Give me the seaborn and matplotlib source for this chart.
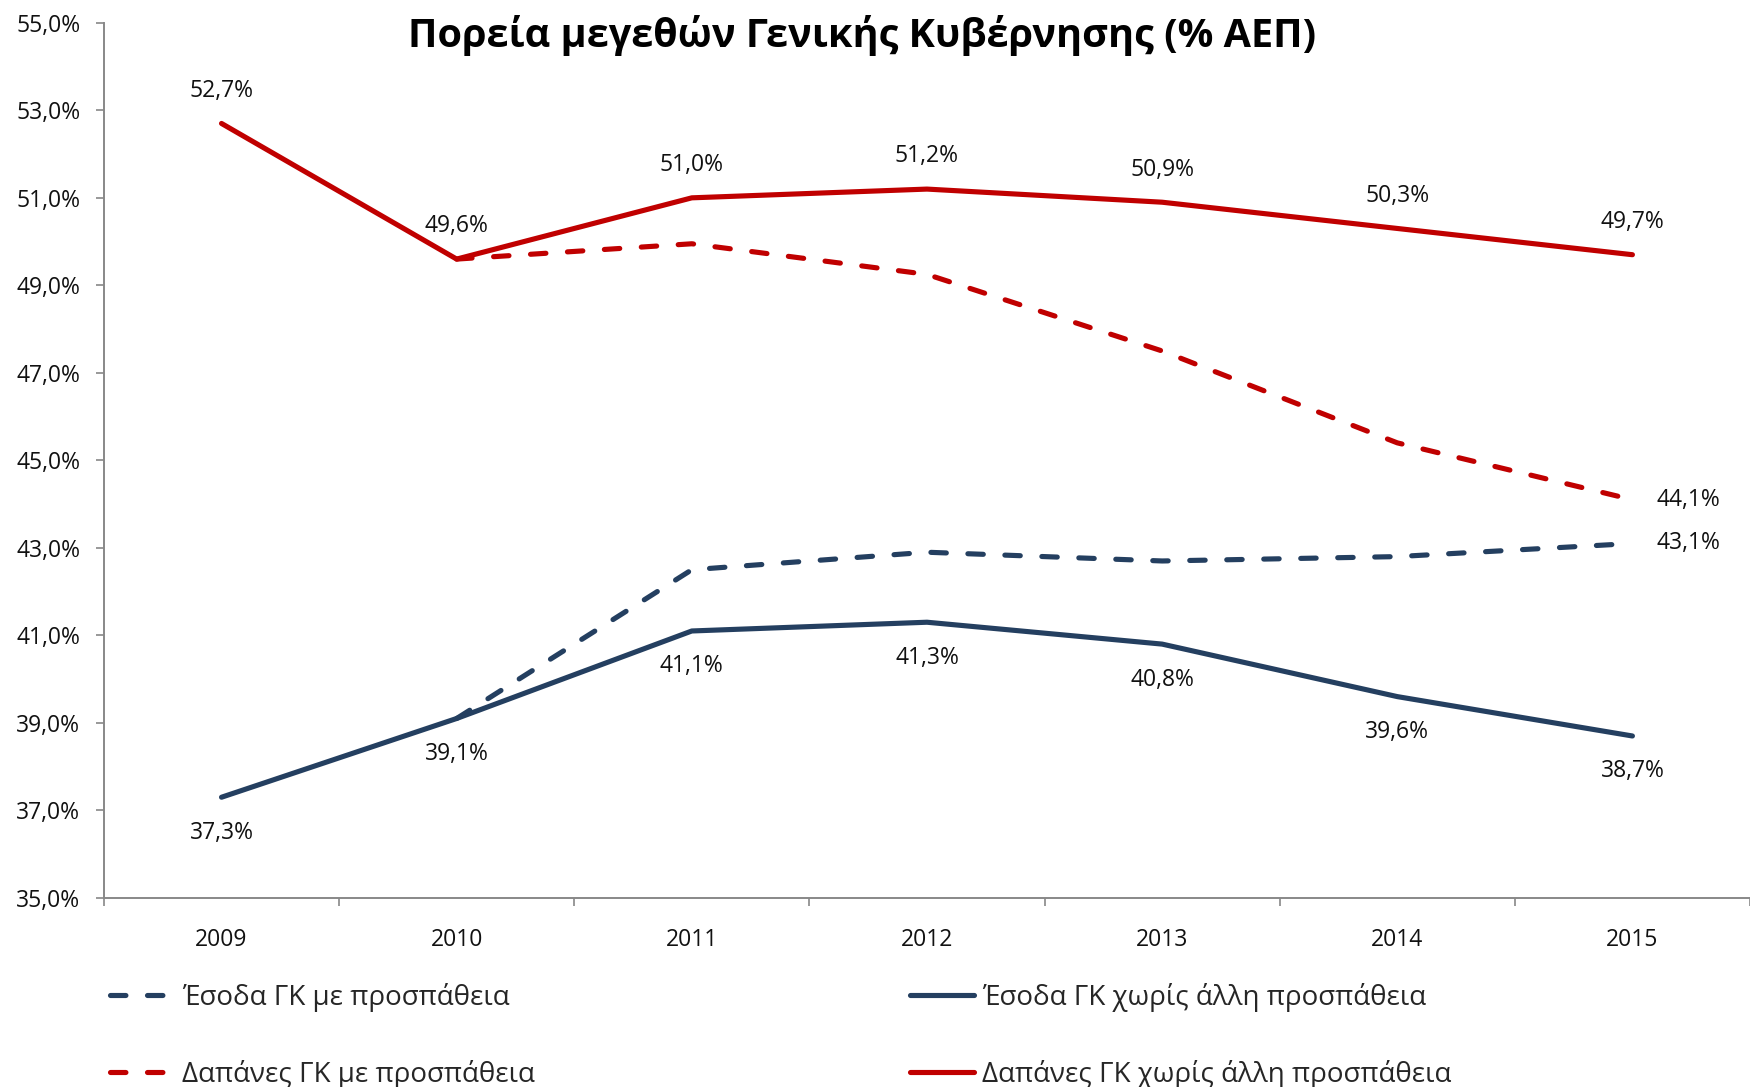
import matplotlib
matplotlib.use("Agg")
import matplotlib.pyplot as plt
import seaborn as sns
import pandas as pd
import numpy as np
from matplotlib.lines import Line2D

sns.set_theme(style="white")
plt.rcParams['font.family'] = ['Open Sans', 'DejaVu Sans']

years = ["2009", "2010", "2011", "2012", "2013", "2014", "2015"]
esoda_me = [np.nan, 39.1, 42.5, 42.9, 42.7, 42.8, 43.1]
esoda_xoris = [37.3, 39.1, 41.1, 41.3, 40.8, 39.6, 38.7]
dapanes_me = [np.nan, 49.6, 49.95, 49.25, 47.5, 45.4, 44.1]
dapanes_xoris = [52.7, 49.6, 51.0, 51.2, 50.9, 50.3, 49.7]

labels = ["Έσοδα ΓΚ με προσπάθεια", "Έσοδα ΓΚ χωρίς άλλη προσπάθεια",
          "Δαπάνες ΓΚ με προσπάθεια", "Δαπάνες ΓΚ χωρίς άλλη προσπάθεια"]
title = "Πορεία μεγεθών Γενικής Κυβέρνησης (% ΑΕΠ)"

NAVY = "#243F60"
RED = "#C00000"
LW = 3.7
DASH = (3, 4.2)
TXT = "#111111"

fig = plt.figure(figsize=(17.5, 10.87), dpi=100)
ax = fig.add_axes([0.0594, 0.174, 0.9406, 0.805])

pos = np.arange(len(years))
series = [
    (esoda_me, NAVY, True, labels[0]),
    (esoda_xoris, NAVY, False, labels[1]),
    (dapanes_me, RED, True, labels[2]),
    (dapanes_xoris, RED, False, labels[3]),
]
handles = {}
for vals, col, dashed, lab in series:
    df = pd.DataFrame({"x": pos, "y": vals}).dropna()
    sns.lineplot(data=df, x="x", y="y", ax=ax, color=col, linewidth=LW,
                 label=lab, legend=False, solid_capstyle="round")
    ln = ax.get_lines()[-1]
    if dashed:
        ln.set_dashes(DASH)
        ln.set_dash_capstyle("round")
    handles[lab] = ln

def fmt(v):
    return f"{v:.1f}%".replace(".", ",")

lab_fs = 16.5
for i, v in enumerate(dapanes_xoris):
    ax.annotate(fmt(v), (pos[i], v), xytext=(0, 23.5), textcoords="offset points",
                ha="center", va="center", fontsize=lab_fs, color=TXT)
for i, v in enumerate(esoda_xoris):
    ax.annotate(fmt(v), (pos[i], v), xytext=(0, -25.5), textcoords="offset points",
                ha="center", va="center", fontsize=lab_fs, color=TXT)
ax.annotate(fmt(dapanes_me[6]), (pos[6], dapanes_me[6]), xytext=(40, 0),
            textcoords="offset points", ha="center", va="center", fontsize=lab_fs, color=TXT)
ax.annotate(fmt(esoda_me[6]), (pos[6], esoda_me[6]), xytext=(40, 0),
            textcoords="offset points", ha="center", va="center", fontsize=lab_fs, color=TXT)

ax.set_xlim(-0.5, 6.5)
ax.set_ylim(35, 55)
yt = np.arange(35, 55.1, 2)
ax.set_yticks(yt)
ax.set_yticklabels([fmt(t) for t in yt])
ax.set_xticks(np.arange(-0.5, 6.6, 1))
ax.set_xticklabels([])
ax.set_xticks(pos, minor=True)
ax.set_xticklabels(years, minor=True)
ax.tick_params(axis="x", which="major", direction="out", length=6, width=1.2, color="#888888", bottom=True)
ax.tick_params(axis="x", which="minor", length=0, pad=22, labelsize=16.5, labelcolor=TXT, bottom=True)
ax.tick_params(axis="y", direction="out", length=6, width=1.2, color="#888888", pad=11,
               labelsize=16.5, labelcolor=TXT, left=True)
for s in ["top", "right"]:
    ax.spines[s].set_visible(False)
for s in ["left", "bottom"]:
    ax.spines[s].set_color("#888888")
    ax.spines[s].set_linewidth(1.4)
ax.set_xlabel("")
ax.set_ylabel("")
ax.grid(False)

fig.text(0.4926, 0.967, title, ha="center", va="center", fontsize=28.5, fontweight="bold", color="#000000")

order = [labels[0], labels[2], labels[1], labels[3]]
leg_handles = []
for lab in order:
    src = handles[lab]
    h = Line2D([0], [0], color=src.get_color(), linewidth=LW, solid_capstyle="round")
    if lab in (labels[0], labels[2]):
        h.set_dashes(DASH)
        h.set_dash_capstyle("round")
    leg_handles.append(h)
fig.legend(leg_handles, order, ncol=2, loc="upper left", bbox_to_anchor=(0.0629, 0.0956),
           frameon=False, fontsize=20, handlelength=2.3, handletextpad=0.3,
           columnspacing=13.5, labelspacing=1.73, borderpad=0, borderaxespad=0)

fig.savefig("out.png", dpi=100)
